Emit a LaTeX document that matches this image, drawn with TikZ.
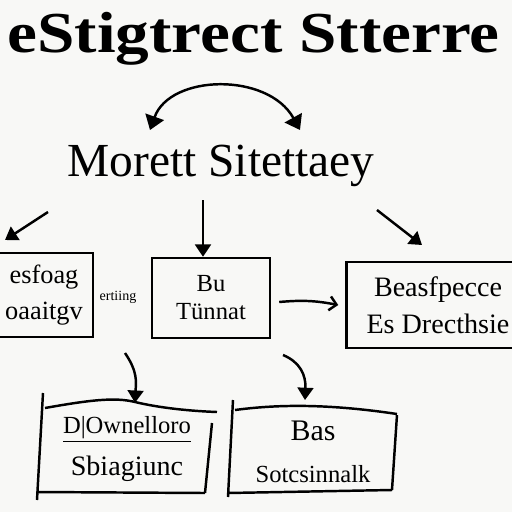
\documentclass[tikz,border=0pt]{standalone}
\usepackage{fontspec}
\setmainfont{Liberation Serif}
\usetikzlibrary{arrows.meta}
\definecolor{paper}{RGB}{248,248,246}
\tikzset{
  box/.style={draw,line width=1.4pt,align=center},
  txt/.style={align=center,inner sep=0pt},
  tip/.style={-{Triangle[width=9pt,length=7pt]}},
}
\begin{document}
\begin{tikzpicture}[x=0.02cm,y=-0.02cm,line width=1.4pt]
  \useasboundingbox (0,0) rectangle (512,512);
  \fill[paper] (0,0) rectangle (512,512);
  % headings
  \node[anchor=base west,inner sep=0pt,xscale=1.16,font=\bfseries\fontsize{33}{36}\selectfont] (title) at (6,52) {eStigtrect Stterre};
  \node[anchor=base,font=\fontsize{27}{30}\selectfont] (sub) at (221,176) {Morett Sitettaey};
  % curved arrow above the heading
  \coordinate (cl) at (150,130); \coordinate (cr) at (300,130);
  \draw [{Triangle[width=11pt,length=8pt]}-{Triangle[width=11pt,length=8pt]}] (cl) .. controls (170,74) and (268,72) .. (cr);
  % middle row
  \node[box,minimum width=1.96cm,minimum height=1.68cm,font=\fontsize{15}{20}\selectfont] (left) at (44,295) {esfoag\\oaaitgv};
  \node[box,minimum width=2.36cm,minimum height=1.6cm,font=\fontsize{14}{16}\selectfont] (mid) at (211,298) {Bu\\Tünnat};
  \node[box,minimum width=3.66cm,minimum height=1.72cm,font=\fontsize{16}{21}\selectfont] (right) at (438,305) {Beasfpecce\\Es Drecthsie};
  \node[font=\fontsize{8}{9}\selectfont] (small) at (118,297) {ertiing};
  \coordinate (la) at (48,212); \coordinate (lb) at (5,240);
  \draw [tip] (la) -- (lb);
  \coordinate (ma) at (203,200);
  \draw [tip] (ma) -- (ma |- mid.north);
  \coordinate (ra) at (377,210); \coordinate (rb) at (422,245);
  \draw [tip] (ra) -- (rb);
  \draw [-{Straight Barb[length=4pt,width=8pt]}] (mid.east) ++(8,4) to[bend left=8] ([xshift=-4pt]right.west);
  % bottom row
  \node[txt,minimum width=3.5cm,minimum height=1.8cm,font=\fontsize{16}{24}\selectfont] (dl) at (127,449) {\fontsize{14}{24}\selectfont\underline{D|Ownelloro}\\Sbiagiunc};
  \draw (43,393) -- (37,500) (37,492) -- (205,493) (212,423) -- (205,493);
  \draw (45,408) .. controls (90,400) and (115,397) .. (135,402) .. controls (160,408) and (190,411) .. (217,412);
  \node[txt,minimum width=3.34cm,minimum height=1.8cm,font=\fontsize{17}{24}\selectfont] (dr) at (313,452) {Bas\\\fontsize{14}{24}\selectfont Sotcsinnalk};
  \draw (233,400) -- (228,497) (228,493) -- (392,490) (397,415) -- (392,490);
  \draw (235,410) .. controls (280,404) and (330,404) .. (397,414);
  \coordinate (da) at (125,353); \coordinate (db) at (283,355);
  \draw [tip] (da) .. controls (138,372) and (136,382) .. (dl.north -| 135,0);
  \draw [tip] (db) .. controls (300,362) and (306,375) .. (305,400);
\end{tikzpicture}
\end{document}
